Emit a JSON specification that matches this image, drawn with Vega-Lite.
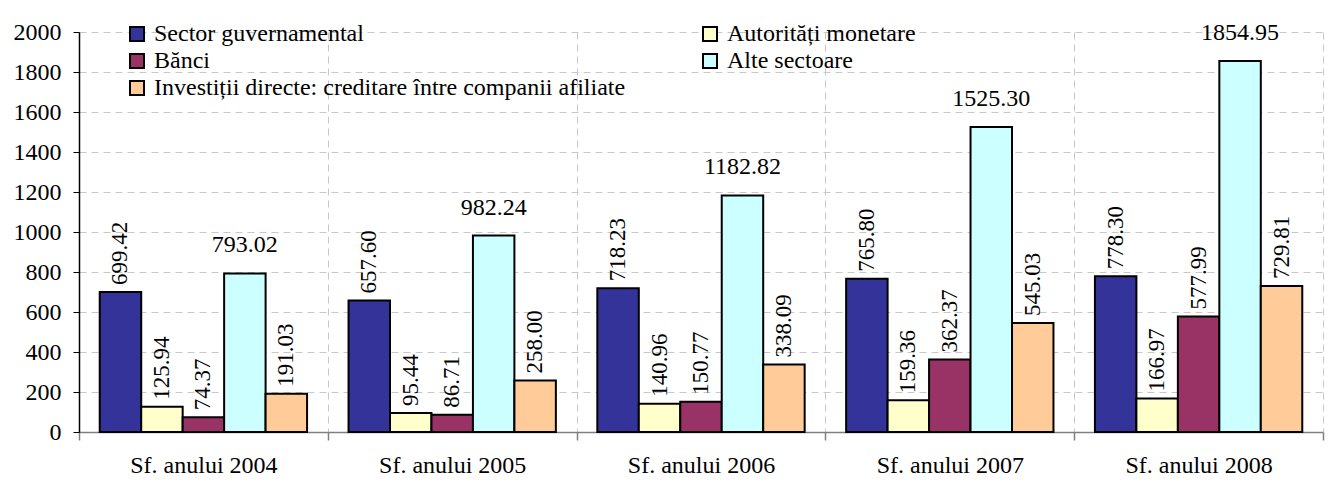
{
  "$schema": "https://vega.github.io/schema/vega-lite/v6.json",
  "autosize": {"type": "none"},
  "padding": {"left": 79, "top": 32, "right": 15, "bottom": 51},
  "width": 1244,
  "height": 400,
  "background": "white",
  "config": {
    "font": "Liberation Serif",
    "view": {"stroke": null},
    "axis": {"labelFont": "Liberation Serif", "labelFontSize": 24, "labelColor": "black", "title": null},
    "legend": {"labelFont": "Liberation Serif"},
    "text": {"font": "Liberation Serif"}
  },
  "data": {
    "values": [
      {"year": "Sf. anului 2004", "series": "Sector guvernamental", "value": 699.42},
      {"year": "Sf. anului 2004", "series": "Autorități monetare", "value": 125.94},
      {"year": "Sf. anului 2004", "series": "Bănci", "value": 74.37},
      {"year": "Sf. anului 2004", "series": "Alte sectoare", "value": 793.02},
      {"year": "Sf. anului 2004", "series": "Investiții directe: creditare între companii afiliate", "value": 191.03},
      {"year": "Sf. anului 2005", "series": "Sector guvernamental", "value": 657.60},
      {"year": "Sf. anului 2005", "series": "Autorități monetare", "value": 95.44},
      {"year": "Sf. anului 2005", "series": "Bănci", "value": 86.71},
      {"year": "Sf. anului 2005", "series": "Alte sectoare", "value": 982.24},
      {"year": "Sf. anului 2005", "series": "Investiții directe: creditare între companii afiliate", "value": 258.00},
      {"year": "Sf. anului 2006", "series": "Sector guvernamental", "value": 718.23},
      {"year": "Sf. anului 2006", "series": "Autorități monetare", "value": 140.96},
      {"year": "Sf. anului 2006", "series": "Bănci", "value": 150.77},
      {"year": "Sf. anului 2006", "series": "Alte sectoare", "value": 1182.82},
      {"year": "Sf. anului 2006", "series": "Investiții directe: creditare între companii afiliate", "value": 338.09},
      {"year": "Sf. anului 2007", "series": "Sector guvernamental", "value": 765.80},
      {"year": "Sf. anului 2007", "series": "Autorități monetare", "value": 159.36},
      {"year": "Sf. anului 2007", "series": "Bănci", "value": 362.37},
      {"year": "Sf. anului 2007", "series": "Alte sectoare", "value": 1525.30},
      {"year": "Sf. anului 2007", "series": "Investiții directe: creditare între companii afiliate", "value": 545.03},
      {"year": "Sf. anului 2008", "series": "Sector guvernamental", "value": 778.30},
      {"year": "Sf. anului 2008", "series": "Autorități monetare", "value": 166.97},
      {"year": "Sf. anului 2008", "series": "Bănci", "value": 577.99},
      {"year": "Sf. anului 2008", "series": "Alte sectoare", "value": 1854.95},
      {"year": "Sf. anului 2008", "series": "Investiții directe: creditare între companii afiliate", "value": 729.81}
    ]
  },
  "encoding": {
    "x": {
      "field": "year", "type": "nominal",
      "scale": {"paddingInner": 0, "paddingOuter": 0},
      "axis": {
        "labelAngle": 0, "domainColor": "#808080", "domainWidth": 1.5,
        "tickColor": "#808080", "tickSize": 8, "tickWidth": 1.5, "tickBand": "extent",
        "labelPadding": 13,
        "grid": true, "gridColor": "#c8c8c8", "gridDash": [7, 5], "gridWidth": 1
      }
    },
    "xOffset": {
      "field": "series", "type": "nominal",
      "scale": {
        "domain": ["Sector guvernamental", "Autorități monetare", "Bănci", "Alte sectoare", "Investiții directe: creditare între companii afiliate"],
        "paddingInner": 0, "paddingOuter": 0.5
      }
    },
    "y": {
      "field": "value", "type": "quantitative",
      "scale": {"domain": [0, 2000], "nice": false},
      "axis": {
        "values": [0, 200, 400, 600, 800, 1000, 1200, 1400, 1600, 1800, 2000],
        "format": "d",
        "domainColor": "black", "domainWidth": 1.5, "tickColor": "black", "tickSize": 6,
        "labelPadding": 12, "grid": true, "gridColor": "#c8c8c8", "gridDash": [7, 5], "gridWidth": 1
      }
    }
  },
  "layer": [
    {
      "mark": {"type": "bar", "stroke": "black", "strokeWidth": 2},
      "encoding": {
        "color": {
          "field": "series", "type": "nominal",
          "scale": {
            "domain": ["Sector guvernamental", "Autorități monetare", "Bănci", "Alte sectoare", "Investiții directe: creditare între companii afiliate"],
            "range": ["#333399", "#FFFFCC", "#993366", "#CCFFFF", "#FFCC99"]
          },
          "legend": {
            "title": null, "orient": "none", "legendX": 46, "legendY": -10,
            "values": ["Sector guvernamental", "Bănci", "Investiții directe: creditare între companii afiliate", "Autorități monetare", "Alte sectoare"],
            "columns": 2, "columnPadding": 72, "rowPadding": 3,
            "symbolType": "square", "symbolSize": 196, "symbolStrokeColor": "black", "symbolStrokeWidth": 2,
            "symbolOpacity": 1,
            "labelFont": "Liberation Serif", "labelFontSize": 24, "labelColor": "black", "labelOffset": 5,
            "labelLimit": 0
          }
        }
      }
    },
    {
      "transform": [{"filter": "datum.series !== 'Alte sectoare'"}],
      "mark": {"type": "text", "angle": 270, "align": "left", "baseline": "middle", "dx": 7, "fontSize": 23, "font": "Liberation Serif", "color": "black"},
      "encoding": {
        "text": {"field": "value", "type": "quantitative", "format": ".2f"}
      }
    },
    {
      "transform": [{"filter": "datum.series === 'Alte sectoare'"}],
      "mark": {"type": "text", "align": "center", "baseline": "alphabetic", "dy": -21, "fontSize": 24, "font": "Liberation Serif", "color": "black"},
      "encoding": {
        "text": {"field": "value", "type": "quantitative", "format": ".2f"}
      }
    }
  ]
}
